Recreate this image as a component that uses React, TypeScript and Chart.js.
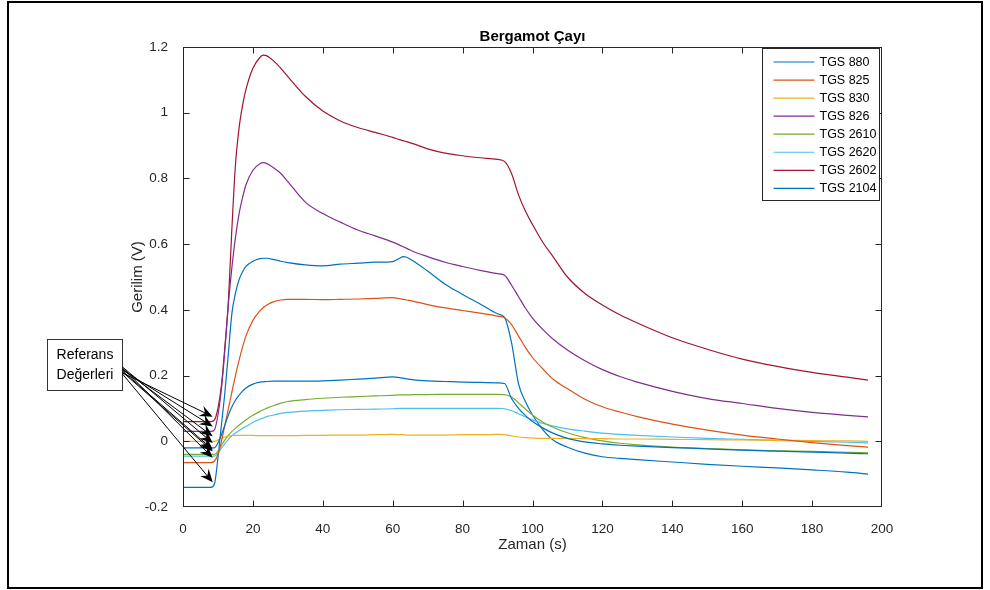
import { useEffect, useRef } from 'react';
import { Chart, registerables } from 'chart.js';

Chart.register(...registerables);

// Sample times (s) shared by every sensor trace
const TIME_S = [
  0, 8, 9, 10, 11, 12, 13, 14, 15, 16, 17, 18, 20, 22, 23, 24, 26, 28, 30, 35,
  40, 45, 50, 55, 60, 62, 63, 64, 66, 70, 75, 80, 85, 90, 92, 94, 96, 98, 100,
  103, 106, 110, 115, 120, 125, 130, 140, 150, 160, 170, 180, 190, 196,
];

// Sensor voltages (V)
const TGS_880 = [
  -0.02, -0.02, -0.02, -0.005, 0.02, 0.05, 0.08, 0.105, 0.125, 0.14, 0.152, 0.162, 0.174, 0.18, 0.181, 0.182, 0.183, 0.183, 0.183, 0.183,
  0.184, 0.186, 0.189, 0.192, 0.196, 0.194, 0.192, 0.19, 0.187, 0.184, 0.182, 0.18, 0.179, 0.178, 0.176, 0.13, 0.1, 0.078, 0.06,
  0.04, 0.024, 0.009, -0.002, -0.008, -0.012, -0.015, -0.019, -0.023, -0.027, -0.03, -0.033, -0.036, -0.038,
];
const TGS_825 = [
  -0.065, -0.065, -0.06, -0.04, 0.0, 0.05, 0.1, 0.15, 0.2, 0.245, 0.285, 0.32, 0.368, 0.397, 0.407, 0.415, 0.425, 0.43, 0.432, 0.432,
  0.431, 0.432, 0.433, 0.435, 0.437, 0.434, 0.432, 0.43, 0.426, 0.416, 0.406, 0.398, 0.39, 0.381, 0.376, 0.355, 0.32, 0.285, 0.255,
  0.22, 0.188, 0.16, 0.128, 0.105, 0.089, 0.075, 0.052, 0.034, 0.019, 0.007, -0.004, -0.013, -0.018,
];
const TGS_830 = [
  0.0, 0.0, 0.0, 0.004, 0.009, 0.013, 0.016, 0.017, 0.018, 0.018, 0.018, 0.018, 0.018, 0.017, 0.017, 0.017, 0.017, 0.017, 0.017, 0.018,
  0.018, 0.019, 0.019, 0.02, 0.021, 0.02, 0.02, 0.019, 0.019, 0.019, 0.019, 0.02, 0.02, 0.021, 0.02, 0.016, 0.013, 0.011, 0.01,
  0.009, 0.009, 0.009, 0.008, 0.008, 0.007, 0.007, 0.006, 0.005, 0.004, 0.003, 0.002, 0.001, 0.0,
];
const TGS_826 = [
  0.03, 0.03, 0.035, 0.08, 0.16, 0.28, 0.42, 0.53, 0.62, 0.69, 0.74, 0.78, 0.825, 0.845, 0.848, 0.845, 0.832, 0.815, 0.79, 0.728,
  0.693, 0.667, 0.643, 0.625, 0.606, 0.597, 0.592, 0.587, 0.577, 0.562, 0.545, 0.532, 0.52, 0.51, 0.505, 0.475, 0.44, 0.405, 0.375,
  0.34, 0.31, 0.278, 0.245, 0.218, 0.197, 0.18, 0.152, 0.13, 0.115, 0.1, 0.088, 0.079, 0.074,
];
const TGS_2610 = [
  -0.04, -0.04, -0.04, -0.03, -0.012, 0.004, 0.018, 0.03, 0.04, 0.049, 0.057, 0.065, 0.079, 0.091, 0.096, 0.101, 0.109, 0.116, 0.121, 0.127,
  0.131, 0.134, 0.136, 0.138, 0.14, 0.141, 0.141, 0.141, 0.142, 0.142, 0.143, 0.143, 0.143, 0.143, 0.142, 0.135, 0.117, 0.098, 0.08,
  0.058, 0.042, 0.026, 0.011, 0.001, -0.006, -0.011, -0.018, -0.022, -0.026, -0.029, -0.031, -0.034, -0.035,
];
const TGS_2620 = [
  -0.045, -0.045, -0.045, -0.036, -0.021, -0.007, 0.006, 0.017, 0.025, 0.032, 0.039, 0.045, 0.057, 0.067, 0.071, 0.075, 0.08, 0.085, 0.088, 0.092,
  0.094, 0.096, 0.097, 0.098, 0.099, 0.1, 0.1, 0.1, 0.1, 0.1, 0.1, 0.1, 0.1, 0.1, 0.099, 0.093, 0.084, 0.074, 0.065,
  0.054, 0.046, 0.038, 0.031, 0.025, 0.021, 0.018, 0.013, 0.009, 0.006, 0.003, 0.0, -0.003, -0.005,
];
const TGS_2602 = [
  0.06, 0.06, 0.065, 0.1, 0.17, 0.29, 0.43, 0.65, 0.84, 0.95, 1.02, 1.07, 1.135, 1.168, 1.175, 1.173, 1.157, 1.135, 1.11, 1.05,
  1.005, 0.975, 0.955, 0.94, 0.925, 0.918, 0.915, 0.912, 0.905, 0.89, 0.877, 0.869, 0.863, 0.858, 0.852, 0.815, 0.75, 0.7, 0.66,
  0.605, 0.56, 0.5, 0.45, 0.415, 0.385, 0.36, 0.315, 0.28, 0.25, 0.228, 0.21, 0.195, 0.186,
];
const TGS_2104 = [
  -0.14, -0.14, -0.13, -0.05, 0.05, 0.15, 0.27, 0.39, 0.45, 0.49, 0.515, 0.532, 0.548, 0.556, 0.557, 0.557, 0.553, 0.548, 0.544, 0.537,
  0.534, 0.539, 0.542, 0.545, 0.547, 0.557, 0.562, 0.56, 0.548, 0.518, 0.478, 0.447, 0.418, 0.388, 0.377, 0.3, 0.175, 0.12, 0.08,
  0.035, 0.003, -0.018, -0.036, -0.047, -0.052, -0.056, -0.063, -0.07, -0.076, -0.081, -0.087, -0.094, -0.1,
];

const SENSOR_LABELS = ['TGS 880', 'TGS 825', 'TGS 830', 'TGS 826', 'TGS 2610', 'TGS 2620', 'TGS 2602', 'TGS 2104'];
const SENSOR_VALUES = [TGS_880, TGS_825, TGS_830, TGS_826, TGS_2610, TGS_2620, TGS_2602, TGS_2104];
const SENSOR_COLORS = ['#0072BD', '#D95319', '#EDB120', '#7E2F8E', '#77AC30', '#4DBEEE', '#A2142F', '#0072BD'];

const X_TICKS = [0, 20, 40, 60, 80, 100, 120, 140, 160, 180, 200];
const Y_TICKS = [-0.2, 0, 0.2, 0.4, 0.6, 0.8, 1, 1.2];

const TITLE = 'Bergamot Çayı';
const X_LABEL = 'Zaman (s)';
const Y_LABEL = 'Gerilim (V)';
const NOTE_LINES = ['Referans', 'Değerleri'];
// time at which the reference arrows point onto each trace
const REFERENCE_TIME = 8.5;

const FONT = '"Liberation Sans", Arial, Helvetica, sans-serif';
const AXIS_COLOR = '#262626';

const decorations = {
  id: 'figureDecorations',
  beforeDraw(chart: any) {
    const ctx = chart.ctx;
    ctx.save();
    ctx.fillStyle = '#ffffff';
    ctx.fillRect(0, 0, chart.width, chart.height);
    ctx.restore();
  },
  afterDraw(chart: any) {
    const { ctx, chartArea: a, scales } = chart;
    const xs = scales.x;
    const ys = scales.y;
    ctx.save();

    // axes box with inward ticks on all four sides
    const L = Math.round(a.left) + 0.5;
    const R = Math.round(a.right) - 0.5;
    const T = Math.round(a.top) + 0.5;
    const B = Math.round(a.bottom) - 0.5;
    ctx.strokeStyle = AXIS_COLOR;
    ctx.lineWidth = 1;
    ctx.strokeRect(L, T, R - L, B - T);
    ctx.beginPath();
    X_TICKS.slice(1, -1).forEach((v) => {
      const px = Math.round(xs.getPixelForValue(v)) + 0.5;
      ctx.moveTo(px, B); ctx.lineTo(px, B - 6);
      ctx.moveTo(px, T); ctx.lineTo(px, T + 6);
    });
    Y_TICKS.slice(1, -1).forEach((v) => {
      const py = Math.round(ys.getPixelForValue(v)) + 0.5;
      ctx.moveTo(L, py); ctx.lineTo(L + 6, py);
      ctx.moveTo(R, py); ctx.lineTo(R - 6, py);
    });
    ctx.stroke();

    // title
    ctx.fillStyle = '#000000';
    ctx.font = `bold 15px ${FONT}`;
    ctx.textAlign = 'center';
    ctx.textBaseline = 'middle';
    ctx.fillText(TITLE, (a.left + a.right) / 2, a.top - 10);

    // legend box (north-east, inside the axes)
    const legW = 117;
    const legH = 152;
    const legX = Math.round(a.right) - 3 - legW + 0.5;
    const legY = Math.round(a.top) + 1 + 0.5;
    ctx.fillStyle = '#ffffff';
    ctx.fillRect(legX, legY, legW, legH);
    ctx.strokeStyle = AXIS_COLOR;
    ctx.strokeRect(legX, legY, legW, legH);
    ctx.font = `12.5px ${FONT}`;
    ctx.textAlign = 'left';
    SENSOR_LABELS.forEach((label, i) => {
      const yy = legY + 13.5 + i * 18.05;
      ctx.strokeStyle = SENSOR_COLORS[i];
      ctx.lineWidth = 1.2;
      ctx.beginPath();
      ctx.moveTo(legX + 11, yy);
      ctx.lineTo(legX + 52, yy);
      ctx.stroke();
      ctx.fillStyle = '#000000';
      ctx.fillText(label, legX + 57, yy + 0.5);
    });

    // text box for the reference annotation
    const boxX = 47.5;
    const boxY = 339.5;
    const boxW = 75;
    const boxH = 51;
    ctx.fillStyle = '#ffffff';
    ctx.fillRect(boxX, boxY, boxW, boxH);
    ctx.strokeStyle = '#333333';
    ctx.lineWidth = 1;
    ctx.strokeRect(boxX, boxY, boxW, boxH);
    ctx.fillStyle = '#000000';
    ctx.font = `14px ${FONT}`;
    ctx.textAlign = 'center';
    NOTE_LINES.forEach((line, i) => {
      ctx.fillText(line, boxX + boxW / 2, boxY + 16 + i * 20);
    });

    // arrows from the text box to each trace's reference level
    ctx.strokeStyle = '#000000';
    ctx.fillStyle = '#000000';
    SENSOR_VALUES.forEach((vals, i) => {
      const tailX = boxX + boxW;
      const tailY = 367 + i;
      const tipX = xs.getPixelForValue(REFERENCE_TIME);
      const tipY = ys.getPixelForValue(vals[0] + 0.015);
      const dx = tipX - tailX;
      const dy = tipY - tailY;
      const len = Math.hypot(dx, dy);
      const ux = dx / len;
      const uy = dy / len;
      const nx = -uy;
      const ny = ux;
      const headL = 13;
      const headW = 5.5;
      ctx.lineWidth = 1;
      ctx.beginPath();
      ctx.moveTo(tailX, tailY);
      ctx.lineTo(tipX - ux * headL * 0.6, tipY - uy * headL * 0.6);
      ctx.stroke();
      ctx.beginPath();
      ctx.moveTo(tipX, tipY);
      ctx.lineTo(tipX - ux * headL + nx * headW, tipY - uy * headL + ny * headW);
      ctx.lineTo(tipX - ux * headL * 0.65, tipY - uy * headL * 0.65);
      ctx.lineTo(tipX - ux * headL - nx * headW, tipY - uy * headL - ny * headW);
      ctx.closePath();
      ctx.fill();
    });

    // outer figure frame
    ctx.strokeStyle = '#000000';
    ctx.lineWidth = 2;
    ctx.strokeRect(8, 2, 974, 586);
    ctx.restore();
  },
};

export default function App() {
  const canvasRef = useRef<HTMLCanvasElement | null>(null);

  useEffect(() => {
    const canvas = canvasRef.current;
    if (!canvas) return;
    const chart = new Chart(canvas, {
      type: 'line',
      data: {
        datasets: SENSOR_LABELS.map((label, i) => ({
          label,
          data: TIME_S.map((t, k) => ({ x: t, y: SENSOR_VALUES[i][k] })),
          borderColor: SENSOR_COLORS[i],
          backgroundColor: SENSOR_COLORS[i],
          borderWidth: 1.2,
          pointRadius: 0,
          fill: false,
          cubicInterpolationMode: 'monotone' as const,
        })),
      },
      options: {
        responsive: false,
        animation: false,
        devicePixelRatio: 1,
        layout: { padding: { top: 47, right: 108, left: 0, bottom: 0 } },
        scales: {
          x: {
            type: 'linear',
            min: 0,
            max: 200,
            afterBuildTicks: (scale: any) => {
              scale.ticks = X_TICKS.map((v) => ({ value: v }));
            },
            afterFit: (scale: any) => {
              scale.height = 83;
            },
            grid: { display: false },
            border: { display: false },
            ticks: {
              padding: 6,
              maxRotation: 0,
              autoSkip: false,
              color: AXIS_COLOR,
              font: { family: FONT, size: 13.5 },
            },
            title: {
              display: true,
              text: X_LABEL,
              color: AXIS_COLOR,
              font: { family: FONT, size: 15 },
              padding: { top: 0, bottom: 36 },
            },
          },
          y: {
            type: 'linear',
            min: -0.2,
            max: 1.2,
            afterBuildTicks: (scale: any) => {
              scale.ticks = Y_TICKS.map((v) => ({ value: v }));
            },
            afterFit: (scale: any) => {
              scale.width = 183;
            },
            grid: { display: false },
            border: { display: false },
            ticks: {
              padding: 7,
              autoSkip: false,
              color: AXIS_COLOR,
              font: { family: FONT, size: 13.5 },
              callback: (v: any) => String(Number(Number(v).toFixed(1))),
            },
            title: {
              display: true,
              text: Y_LABEL,
              color: AXIS_COLOR,
              font: { family: FONT, size: 15 },
              padding: { top: 129, bottom: 0 },
            },
          },
        },
        plugins: {
          legend: { display: false },
          title: { display: false },
          tooltip: { enabled: false },
        },
      },
      plugins: [decorations],
    } as any);
    return () => chart.destroy();
  }, []);

  return (
    <div style={{ position: 'fixed', left: 0, top: 0, width: 990, height: 590, background: '#fff' }}>
      <canvas ref={canvasRef} width={990} height={590} style={{ display: 'block', width: 990, height: 590 }} />
    </div>
  );
}
